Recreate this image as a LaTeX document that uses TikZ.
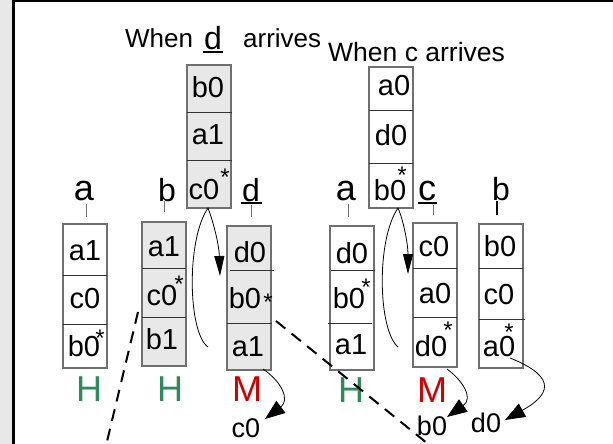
\documentclass[tikz,border=0pt]{standalone}
\usepackage{fontspec}
\setmainfont{Liberation Sans}
\usetikzlibrary{arrows.meta}

\definecolor{cellgray}{HTML}{E8E8E8}
\definecolor{stripgray}{HTML}{E8E8E8}
\definecolor{boxline}{HTML}{707070}
\definecolor{divline}{HTML}{333333}
\definecolor{hitgreen}{HTML}{2E8B57}
\definecolor{missred}{HTML}{D00000}

\tikzset{
  stackbox/.style={draw=boxline, line width=1.2pt, anchor=north west,
    inner sep=0pt, outer sep=0pt, minimum width=44pt},
  divider/.style={draw=divline, line width=0.9pt},
  entry/.style={font=\fontsize{29}{29}\selectfont, inner sep=0pt},
  starmark/.style={font=\fontsize{24}{24}\selectfont, inner sep=0pt},
  colsmall/.style={font=\fontsize{32}{32}\selectfont, inner sep=0pt, anchor=base},
  colbig/.style={font=\fontsize{36}{36}\selectfont, inner sep=0pt, anchor=base},
  title/.style={font=\fontsize{26}{26}\selectfont, inner sep=0pt, anchor=base west},
  verdict/.style={font=\fontsize{36}{36}\selectfont, inner sep=0pt},
  outlabel/.style={font=\fontsize{27}{27}\selectfont, inner sep=0pt, anchor=base},
  tickline/.style={draw=boxline, line width=1pt},
  uline/.style={line width=2pt},
  flow/.style={line width=0.8pt},
  looptip/.style={-{Triangle[length=20pt,width=10pt]}},
  outtip/.style={-{Triangle[length=20pt,width=15pt]}},
  evict/.style={line width=2pt, dash pattern=on 12pt off 8pt},
}

\begin{document}
\begin{tikzpicture}[x=1pt,y=-1pt]
\useasboundingbox (0,0) rectangle (613,444);
% page frame
\fill[white] (0,0) rectangle (613,444);
\fill[stripgray] (0,0) rectangle (12,444);
\draw[line width=3pt] (13.5,0) -- (13.5,444);
\draw[line width=2.5pt] (12,1) -- (613,1);

% ---------------- titles ----------------
\node[title] (tdWhen) at (125,48) {When};
\node[colsmall, anchor=base] (tdLetter) at (213,49) {d};
\draw[uline] (203,52) -- (223,52);
\node[title] (tdArr) at (243,48) {arrives};
\node[title, font=\fontsize{26.5}{26.5}\selectfont] (tcTitle) at (328,62) {When c arrives};

% ---------------- incoming stack when d arrives ----------------
\node[stackbox, fill=cellgray, minimum height=143pt] (topD) at (187,65) {};
\draw[divider] (187,112) -- (232,112);
\draw[divider] (187,160) -- (232,160);
\node[entry] (topDb0) at (208,87) {b0};
\node[entry] (topDa1) at (208,135) {a1};
\node[entry] (topDc0) at (204,190) {c0};
\node[starmark] (topDst) at (225,177) {*};

% ---------------- incoming stack when c arrives ----------------
\node[stackbox, fill=white, minimum height=141pt] (topC) at (369,67) {};
\draw[divider] (369,110) -- (413,110);
\draw[divider] (369,163) -- (413,163);
\node[entry] (topCa0) at (394,86) {a0};
\node[entry] (topCd0) at (391,135) {d0};
\node[entry] (topCb0) at (390,190) {b0};
\node[starmark] (topCst) at (402,175) {*};

% ---------------- column labels ----------------
\node[colbig] (labA1) at (84,200) {a};
\node[colsmall] (labB1) at (167,201) {b};
\node[colsmall] (labD1) at (251,201) {d};
\draw[uline] (241,203) -- (262,203);
\node[colbig] (labA2) at (346,200) {a};
\node[colbig] (labC2) at (427,200) {c};
\draw[uline] (418,203) -- (437,203);
\node[colsmall] (labB2) at (501,200) {b};

\draw[tickline] (86,204) -- (86,217);
\draw[tickline] (164,201) -- (164,212);
\draw[tickline] (251,205) -- (251,217);
\draw[tickline] (348,204) -- (348,217);
\draw[tickline] (433,205) -- (433,215);
\draw[line width=1.6pt] (497,201) -- (497,215);

% ---------------- first group of stacks ----------------
\node[stackbox, fill=white, minimum height=144pt] (s1) at (63,224) {};
\draw[divider] (63,275) -- (107,275);
\draw[divider] (63,324) -- (107,324);
\node[entry] (s1a) at (85,251) {a1};
\node[entry] (s1b) at (85,299) {c0};
\node[entry] (s1c) at (84,346) {b0};
\node[starmark] (s1st) at (100,338) {*};

\node[stackbox, fill=cellgray, minimum height=144pt] (s2) at (142,222) {};
\draw[divider] (142,268) -- (186,268);
\draw[divider] (142,317) -- (186,317);
\node[entry] (s2a) at (164,247) {a1};
\node[entry] (s2b) at (162,296) {c0};
\node[entry] (s2c) at (162,339) {b1};
\node[starmark] (s2st) at (179,284) {*};

\node[stackbox, fill=cellgray, minimum height=144pt] (s3) at (227,226) {};
\draw[divider] (230,270) -- (274,270);
\draw[divider] (227,323) -- (272,323);
\node[entry] (s3a) at (250,252) {d0};
\node[entry] (s3b) at (245,298) {b0};
\node[entry] (s3c) at (248,347) {a1};
\node[starmark] (s3st) at (268,302) {*};

% ---------------- second group of stacks ----------------
\node[stackbox, fill=white, minimum height=144pt] (s4) at (330,226) {};
\draw[divider] (331,270) -- (375,270);
\draw[divider] (328,323) -- (372,323);
\node[entry] (s4a) at (352,253) {d0};
\node[entry] (s4b) at (349,298) {b0};
\node[entry] (s4c) at (351,345) {a1};
\node[starmark] (s4st) at (366,287) {*};

\node[stackbox, fill=white, minimum height=144pt] (s5) at (413,223) {};
\draw[divider] (413,268) -- (457,268);
\draw[divider] (413,317) -- (457,317);
\node[entry] (s5a) at (434,247) {c0};
\node[entry] (s5b) at (435,294) {a0};
\node[entry] (s5c) at (431,346) {d0};
\node[starmark] (s5st) at (448,330) {*};

\node[stackbox, fill=white, minimum height=144pt] (s6) at (479,224) {};
\draw[divider] (479,268) -- (523,268);
\draw[divider] (479,319) -- (525,319);
\node[entry] (s6a) at (500,246) {b0};
\node[entry] (s6b) at (499,295) {c0};
\node[entry] (s6c) at (499,347) {a0};
\node[starmark] (s6st) at (509,332) {*};

% ---------------- hit / miss marks ----------------
\node[verdict, text=hitgreen] (v1) at (89,389) {H};
\node[verdict, text=hitgreen] (v2) at (170,389) {H};
\node[verdict, text=missred] (v3) at (247,389) {M};
\node[verdict, text=hitgreen] (v4) at (351,390) {H};
\node[verdict, text=missred] (v5) at (432,390) {M};

% ---------------- evicted entries ----------------
\node[outlabel] (outC) at (246,437) {c0};
\node[outlabel] (outB) at (432,435) {b0};
\node[outlabel] (outD) at (486,432) {d0};

% ---------------- insertion loops ----------------
\coordinate (loopDfoot) at (208,347);
\coordinate (loopDtop) at (topD.south -| 208,0);
\coordinate (loopDend) at (220,276);
\draw[flow, looptip] (loopDfoot) .. controls (188,333) and (186,240) .. (loopDtop)
  .. controls (214,224) and (219,245) .. (loopDend);

\coordinate (loopCfoot) at (398,347);
\coordinate (loopCtop) at (topC.south -| 398,0);
\coordinate (loopCend) at (408,274);
\draw[flow, looptip] (loopCfoot) .. controls (378,330) and (376,240) .. (loopCtop)
  .. controls (404,222) and (408,245) .. (loopCend);

% ---------------- eviction arrows ----------------
\coordinate (evS3) at (263,369);
\coordinate (evCtip) at (265,419);
\draw[flow, outtip] (evS3) .. controls (282,382) and (290,400) .. (evCtip);

\coordinate (evS5) at (447,369);
\coordinate (evBtip) at (447,417);
\draw[flow, outtip] (evS5) .. controls (462,380) and (474,398) .. (evBtip);

\coordinate (evS6) at (510,358);
\coordinate (evDtip) at (505,420);
\draw[flow, outtip] (evS6) .. controls (560,378) and (548,396) .. (evDtip);

% ---------------- dashed separators ----------------
\begin{scope}
\clip (0,0) rectangle (613,444);
\draw[evict] (s2.west |- 0,312) ++(-4,0) -- (104,454);
\draw[evict] (s3.east |- 0,321) ++(5,0) -- (438,452);
\end{scope}
\end{tikzpicture}
\end{document}
